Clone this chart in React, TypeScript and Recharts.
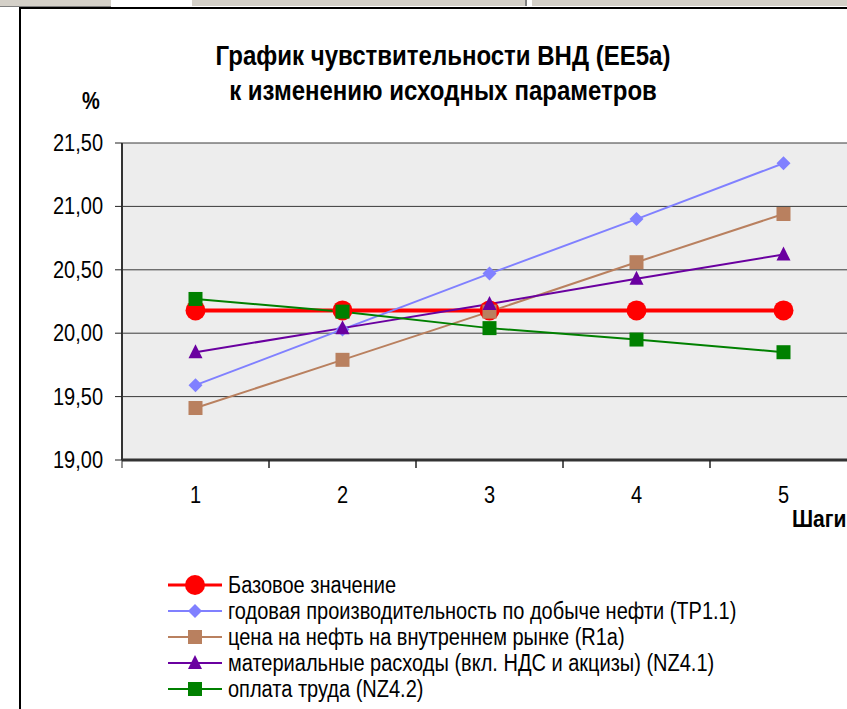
import React from "react";
import { LineChart, Line, XAxis, YAxis, CartesianGrid, Legend } from "recharts";

const steps = ["1", "2", "3", "4", "5"];
const base = [20.18, 20.18, 20.18, 20.18, 20.18];
const productivity = [19.59, 20.03, 20.47, 20.9, 21.34];
const oilPrice = [19.41, 19.79, 20.17, 20.56, 20.94];
const materials = [19.85, 20.04, 20.23, 20.43, 20.62];
const wages = [20.27, 20.17, 20.04, 19.95, 19.85];
const yTicks = [19, 19.5, 20, 20.5, 21, 21.5];

const series = [
  { key: "base", name: "Базовое значение", color: "#FF0000", width: 4, shape: "circle" },
  { key: "productivity", name: "годовая производительность по добыче нефти (TP1.1)", color: "#8080FF", width: 2, shape: "diamond" },
  { key: "oilPrice", name: "цена на нефть на внутреннем рынке (R1a)", color: "#B9805F", width: 2, shape: "square" },
  { key: "materials", name: "материальные расходы (вкл. НДС и акцизы) (NZ4.1)", color: "#6A00A0", width: 2, shape: "triangle" },
  { key: "wages", name: "оплата труда (NZ4.2)", color: "#008000", width: 2, shape: "square" },
];

const data = steps.map((s, i) => ({
  step: s,
  base: base[i],
  productivity: productivity[i],
  oilPrice: oilPrice[i],
  materials: materials[i],
  wages: wages[i],
}));

const FONT = '"Liberation Sans", Arial, sans-serif';
const PLOT_LEFT = 122;
const PLOT_RIGHT = 857;
const HALF_BAND = (PLOT_RIGHT - PLOT_LEFT) / steps.length / 2;
const STRETCH = 1.15; // the original text looks a bit tall and narrow

const tall: React.CSSProperties = { display: "inline-block", transform: `scaleY(${STRETCH})` };

function Marker({ cx, cy, shape, color }: any) {
  if (cx == null || cy == null) return null;
  if (shape === "circle") return <circle cx={cx} cy={cy} r={10} fill={color} />;
  if (shape === "diamond")
    return <polygon points={`${cx},${cy - 7} ${cx + 7},${cy} ${cx},${cy + 7} ${cx - 7},${cy}`} fill={color} />;
  if (shape === "triangle")
    return <polygon points={`${cx},${cy - 8} ${cx + 7},${cy + 6} ${cx - 7},${cy + 6}`} fill={color} />;
  return <rect x={cx - 7} y={cy - 7} width={14} height={14} fill={color} />;
}

function XTick({ x, y, payload }: any) {
  return (
    <g>
      <line x1={x - HALF_BAND} y1={y} x2={x - HALF_BAND} y2={y + 8} stroke="#222" strokeWidth={1} />
      <line x1={x + HALF_BAND} y1={y} x2={x + HALF_BAND} y2={y + 8} stroke="#222" strokeWidth={1} />
      <text transform={`translate(${x},${y + 43}) scale(1,${STRETCH})`} textAnchor="middle" fontSize={20} fill="#000" fontFamily={FONT}>
        {payload.value}
      </text>
    </g>
  );
}

function YTick({ x, y, payload }: any) {
  return (
    <text transform={`translate(${x},${y + 8}) scale(1,${STRETCH})`} textAnchor="end" fontSize={20} fill="#000" fontFamily={FONT}>
      {payload.value.toFixed(2).replace(".", ",")}
    </text>
  );
}

function LegendContent({ payload }: any) {
  const order = (k: any) => series.findIndex((v) => v.key === k);
  const items = [...(payload || [])].sort((a: any, b: any) => order(a.dataKey) - order(b.dataKey));
  return (
    <div style={{ fontFamily: FONT, fontSize: 20, color: "#000", textAlign: "left" }}>
      {items.map((p: any) => {
        const s = series[order(p.dataKey)] || series[0];
        return (
          <div key={s.key} style={{ display: "flex", alignItems: "center", height: 26 }}>
            <svg width={60} height={26} style={{ flex: "none" }}>
              <line x1={0} y1={13} x2={54} y2={13} stroke={s.color} strokeWidth={s.width === 4 ? 3 : 2} />
              <Marker cx={27} cy={13} shape={s.shape} color={s.color} />
            </svg>
            <span style={{ ...tall, whiteSpace: "nowrap" }}>{s.name}</span>
          </div>
        );
      })}
    </div>
  );
}

export default function App() {
  return (
    <div style={{ position: "fixed", left: 0, top: 0, width: 847, height: 709, overflow: "hidden", background: "#fff" }}>
      <div style={{ position: "absolute", left: 0, top: 0, width: 111, height: 6, background: "#D4D0C8", borderBottom: "1px solid #808080" }} />
      <div style={{ position: "absolute", left: 192, top: 0, width: 333, height: 6, background: "#D4D0C8", borderRight: "2px solid #808080" }} />
      <div style={{ position: "absolute", left: 532, top: 0, width: 315, height: 6, background: "#D4D0C8" }} />
      <div style={{ position: "absolute", left: 19, top: 7, width: 900, height: 800, borderLeft: "2px solid #000", borderTop: "2px solid #000" }} />

      <div
        style={{
          position: "absolute",
          left: 0,
          width: 886,
          top: 38,
          textAlign: "center",
          fontFamily: FONT,
          fontWeight: "bold",
          fontSize: 24,
          lineHeight: "35px",
        }}
      >
        <div><span style={tall}>График чувствительности ВНД (ЕЕ5а)</span></div>
        <div><span style={tall}>к изменению исходных параметров</span></div>
      </div>
      <div style={{ position: "absolute", left: 82, top: 90, fontFamily: FONT, fontWeight: "bold", fontSize: 20 }}>
        <span style={tall}>%</span>
      </div>
      <div style={{ position: "absolute", left: 792, top: 507, fontFamily: FONT, fontWeight: "bold", fontSize: 21, whiteSpace: "nowrap" }}>
        <span style={tall}>Шаги</span>
      </div>

      <div style={{ position: "absolute", left: 0, top: 0 }}>
        <LineChart width={870} height={709} data={data} margin={{ top: 143, right: 13, bottom: 209, left: 0 }}>
          <CartesianGrid vertical={false} fill="#EDEDED" stroke="#3a3a3a" strokeWidth={1} />
          <XAxis
            dataKey="step"
            height={40}
            padding={{ left: HALF_BAND, right: HALF_BAND }}
            tickLine={false}
            tickSize={0}
            tickMargin={0}
            axisLine={{ stroke: "#333", strokeWidth: 3 }}
            tick={<XTick />}
            interval={0}
          />
          <YAxis
            width={122}
            domain={[19, 21.5]}
            ticks={yTicks}
            tickSize={7}
            tickMargin={12}
            tickLine={{ stroke: "#222" }}
            axisLine={{ stroke: "#333", strokeWidth: 2 }}
            tick={<YTick />}
            interval={0}
          />
          {series.map((s) => (
            <Line
              key={s.key}
              dataKey={s.key}
              name={s.name}
              stroke={s.color}
              strokeWidth={s.width}
              type="linear"
              isAnimationActive={false}
              dot={(props: any) => <Marker key={`${s.key}-${props.index}`} cx={props.cx} cy={props.cy} shape={s.shape} color={s.color} />}
              activeDot={false}
            />
          ))}
          <Legend
            layout="vertical"
            align="center"
            verticalAlign="middle"
            content={<LegendContent />}
            wrapperStyle={{ position: "absolute", left: 168, top: 572, width: 640 }}
          />
        </LineChart>
      </div>
    </div>
  );
}
